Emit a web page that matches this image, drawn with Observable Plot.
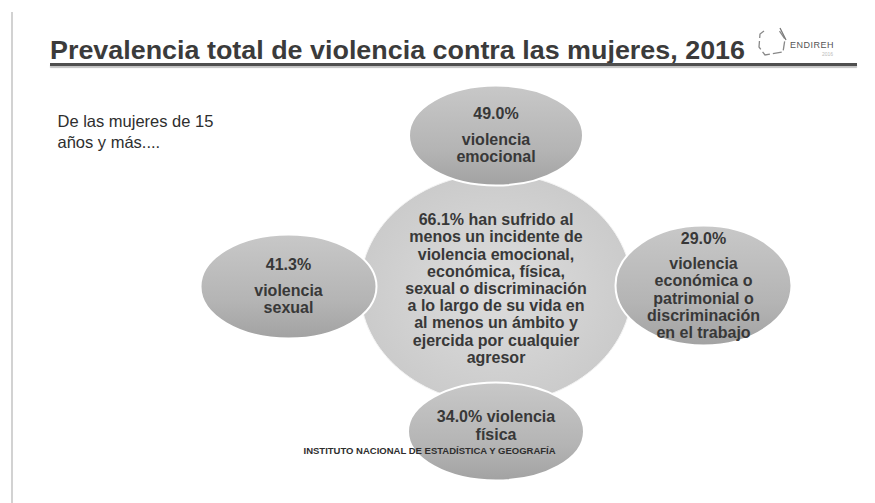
<!DOCTYPE html>
<html><head><meta charset="utf-8">
<script src="https://cdn.jsdelivr.net/npm/d3@7"></script>
<script src="https://cdn.jsdelivr.net/npm/@observablehq/plot@0.6"></script>
<style>
html,body{margin:0;padding:0;background:#fff;}
#wrap{position:relative;width:875px;height:503px;overflow:hidden;font-family:"Liberation Sans",Arial,sans-serif;}
#header{position:relative;height:75px;}
#title{position:absolute;left:50px;top:38px;font-size:25px;font-weight:bold;color:#3b3b3b;white-space:nowrap;line-height:1;transform-origin:0 0;}
#rule{position:absolute;left:50px;top:63px;width:807px;height:3px;background:#4f4f4f;box-shadow:0 2px 1px #c4c4c4;}
#logo{position:absolute;left:756px;top:27px;}
#border{position:absolute;left:11px;top:12px;width:2px;bottom:0;background:#d2d2d2;}
#chart svg{display:block;}
</style>
</head><body>
<div id="wrap">
  <div id="border"></div>
  <div id="header">
    <div id="title">Prevalencia total de violencia contra las mujeres, 2016</div>
    <div id="rule"></div>
    <svg id="logo" width="100" height="32" viewBox="0 0 100 32">
      <path d="M8 4 L4 7 L3 20 L9 28 L27 25 L29 12 L22 2" fill="none" stroke="#888" stroke-width="1.3" stroke-dasharray="9 3"/>
      <path d="M24 1 L30 13" fill="none" stroke="#777" stroke-width="1.2"/>
      <text x="34" y="21" font-family="Liberation Sans, Arial, sans-serif" font-size="9" fill="#555" letter-spacing="0.5">ENDIREH</text>
      <text x="66" y="29" font-family="Liberation Sans, Arial, sans-serif" font-size="5" fill="#bbb">2016</text>
    </svg>
  </div>
  <div id="chart"></div>
</div>
<script>
// ---- data ----
const categories = ["violencia emocional", "violencia económica o patrimonial o discriminación en el trabajo", "violencia física", "violencia sexual"];
const percentages = [49.0, 29.0, 34.0, 41.3];
const labelLines = [
  "violencia\nemocional",
  "violencia\neconómica o\npatrimonial o\ndiscriminación\nen el trabajo",
  "violencia\nfísica",
  "violencia\nsexual"
];
const totalPercentage = 66.1;
const totalLines = "han sufrido al\nmenos un incidente de\nviolencia emocional,\neconómica, física,\nsexual o discriminación\na lo largo de su vida en\nal menos un ámbito y\nejercida por cualquier\nagresor";
const subtitle = "De las mujeres de 15\naños y más....";
const footer = "INSTITUTO NACIONAL DE ESTADÍSTICA Y GEOGRAFÍA";

// ---- layout (sizes / styles) ----
const shapes = [
  {rx: 87, ry: 50, inline: false, dy: -1},
  {rx: 88, ry: 60, inline: false, dy: 4},
  {rx: 88, ry: 49, inline: true, dy: 5},
  {rx: 88, ry: 52, inline: false, dy: 5}
];
const center = {rx: 136, ry: 115, dy: 7};
const fmt = d3.format(".1f");
const lh = 17.2, gap = 8, fs = 16;
const textColor = "#383838";

function ellipse(aspect) {
  return {draw(ctx, size) {
    const rx = Math.sqrt(size / Math.PI), ry = rx * aspect, k = 0.5522847;
    ctx.moveTo(rx, 0);
    ctx.bezierCurveTo(rx, ry * k, rx * k, ry, 0, ry);
    ctx.bezierCurveTo(-rx * k, ry, -rx, ry * k, -rx, 0);
    ctx.bezierCurveTo(-rx, -ry * k, -rx * k, -ry, 0, -ry);
    ctx.bezierCurveTo(rx * k, -ry, rx, -ry * k, rx, 0);
    ctx.closePath();
  }};
}

const sats = categories.map((c, i) => ({
  name: c,
  pct: percentages[i],
  label: labelLines[i],
  x: Math.round(Math.sin(i * Math.PI / 2)),
  y: -Math.round(Math.cos(i * Math.PI / 2))
}));
const hub = [{x: 0, y: 0, text: fmt(totalPercentage) + "% " + totalLines}];

const marks = [
  Plot.dot(hub, {x: "x", y: "y", dy: center.dy, r: center.rx, symbol: ellipse(center.ry / center.rx), fill: "url(#hubGrad)", stroke: "#f4f4f4", strokeWidth: 1})
];
sats.forEach((d, i) => {
  const s = shapes[i];
  marks.push(Plot.dot([d], {x: "x", y: "y", dy: s.dy, r: s.rx, symbol: ellipse(s.ry / s.rx), fill: "url(#satGrad)", stroke: "#fff", strokeWidth: 2}));
});
marks.push(Plot.text(hub, {x: "x", y: "y", text: "text", fontSize: fs, fontWeight: "bold", lineHeight: lh / fs, fill: textColor, dy: center.dy}));
sats.forEach((d, i) => {
  const s = shapes[i];
  const lines = d.label.split("\n");
  if (s.inline) {
    const t = fmt(d.pct) + "% " + lines[0] + "\n" + lines.slice(1).join("\n");
    marks.push(Plot.text([d], {x: "x", y: "y", text: () => t, fontSize: fs, fontWeight: "bold", lineHeight: lh / fs, fill: textColor, dy: s.dy - 6}));
  } else {
    const n = lines.length;
    const c = (gap + n * lh) / 2;
    marks.push(Plot.text([d], {x: "x", y: "y", text: (d) => fmt(d.pct) + "%", fontSize: fs, fontWeight: "bold", fill: textColor, dy: s.dy - c}));
    marks.push(Plot.text([d], {x: "x", y: "y", text: "label", fontSize: fs, fontWeight: "bold", lineHeight: lh / fs, fill: textColor, dy: s.dy + gap + (n + 1) / 2 * lh - c}));
  }
});
marks.push(Plot.text([subtitle], {text: (d) => d, frameAnchor: "top-left", dx: 57, dy: 37, fontSize: 16.5, lineHeight: 21 / 16.5, fill: "#2e2e2e", textAnchor: "start"}));
marks.push(Plot.text([footer], {text: (d) => d, frameAnchor: "top-left", dx: 303, dy: 372, fontSize: 9.5, fontWeight: "bold", fill: "#2e2e2e", textAnchor: "start"}));

const chart = Plot.plot({
  width: 875,
  height: 428,
  margin: 0,
  style: {fontFamily: "'Liberation Sans', Arial, sans-serif", background: "transparent", overflow: "visible"},
  x: {domain: [-1, 1], range: [288, 703], axis: null},
  y: {domain: [-1, 1], range: [61, 351], axis: null},
  marks
});
document.getElementById("chart").appendChild(chart);

const defs = d3.select(chart).insert("defs", ":first-child");
const lg = defs.append("linearGradient").attr("id", "satGrad").attr("x1", 0).attr("y1", 0).attr("x2", 0).attr("y2", 1);
lg.append("stop").attr("offset", "0%").attr("stop-color", "#c8c8c8");
lg.append("stop").attr("offset", "65%").attr("stop-color", "#b4b4b4");
lg.append("stop").attr("offset", "100%").attr("stop-color", "#a2a2a2");
const rg = defs.append("radialGradient").attr("id", "hubGrad");
rg.append("stop").attr("offset", "0%").attr("stop-color", "#dddddd");
rg.append("stop").attr("offset", "100%").attr("stop-color", "#cbcbcb");

// fit title width to the reference
const title = document.getElementById("title");
const w = title.getBoundingClientRect().width;
title.style.transform = `scaleX(${695 / w})`;
</script>
</body></html>
